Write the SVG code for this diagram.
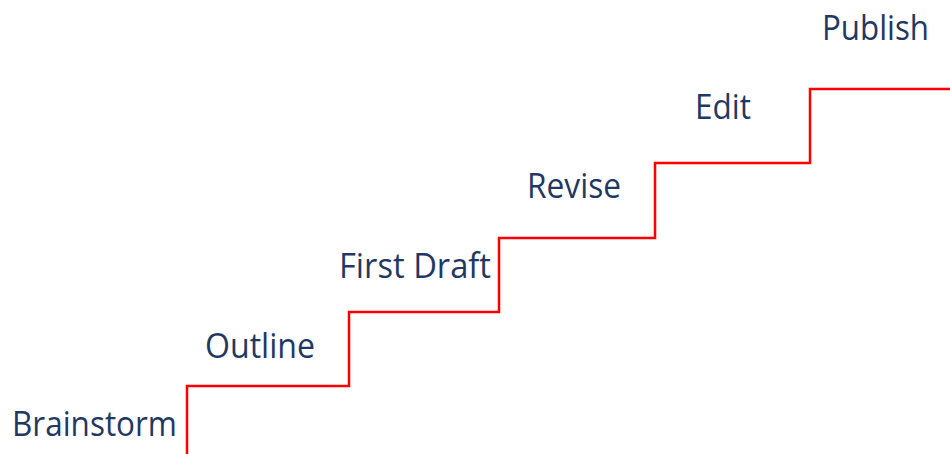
<svg xmlns="http://www.w3.org/2000/svg" width="950" height="454" viewBox="0 0 950 454">
<style>
.lbl{font-family:"Open Sans","Noto Sans","Liberation Sans",sans-serif;font-size:34px;fill:#1f3864}
.stair{fill:none;stroke:#ff0000;stroke-width:2.5}
</style>
<rect width="950" height="454" fill="#ffffff"/>
<g id="connectors">
<path class="stair" d="M187,454 V386 H349 V312 H499 V238 H655 V163 H810 V89 H950"/>
</g>
<g id="brainstorm"><text class="lbl" x="12" y="436" textLength="165" lengthAdjust="spacingAndGlyphs">Brainstorm</text></g>
<g id="outline"><text class="lbl" x="205" y="358" textLength="110" lengthAdjust="spacingAndGlyphs">Outline</text></g>
<g id="first-draft"><text class="lbl" x="339" y="278" textLength="152" lengthAdjust="spacingAndGlyphs">First Draft</text></g>
<g id="revise"><text class="lbl" x="527" y="198" textLength="94" lengthAdjust="spacingAndGlyphs">Revise</text></g>
<g id="edit"><text class="lbl" x="695" y="119" textLength="56" lengthAdjust="spacingAndGlyphs">Edit</text></g>
<g id="publish"><text class="lbl" x="822" y="40" textLength="107" lengthAdjust="spacingAndGlyphs">Publish</text></g>
</svg>
